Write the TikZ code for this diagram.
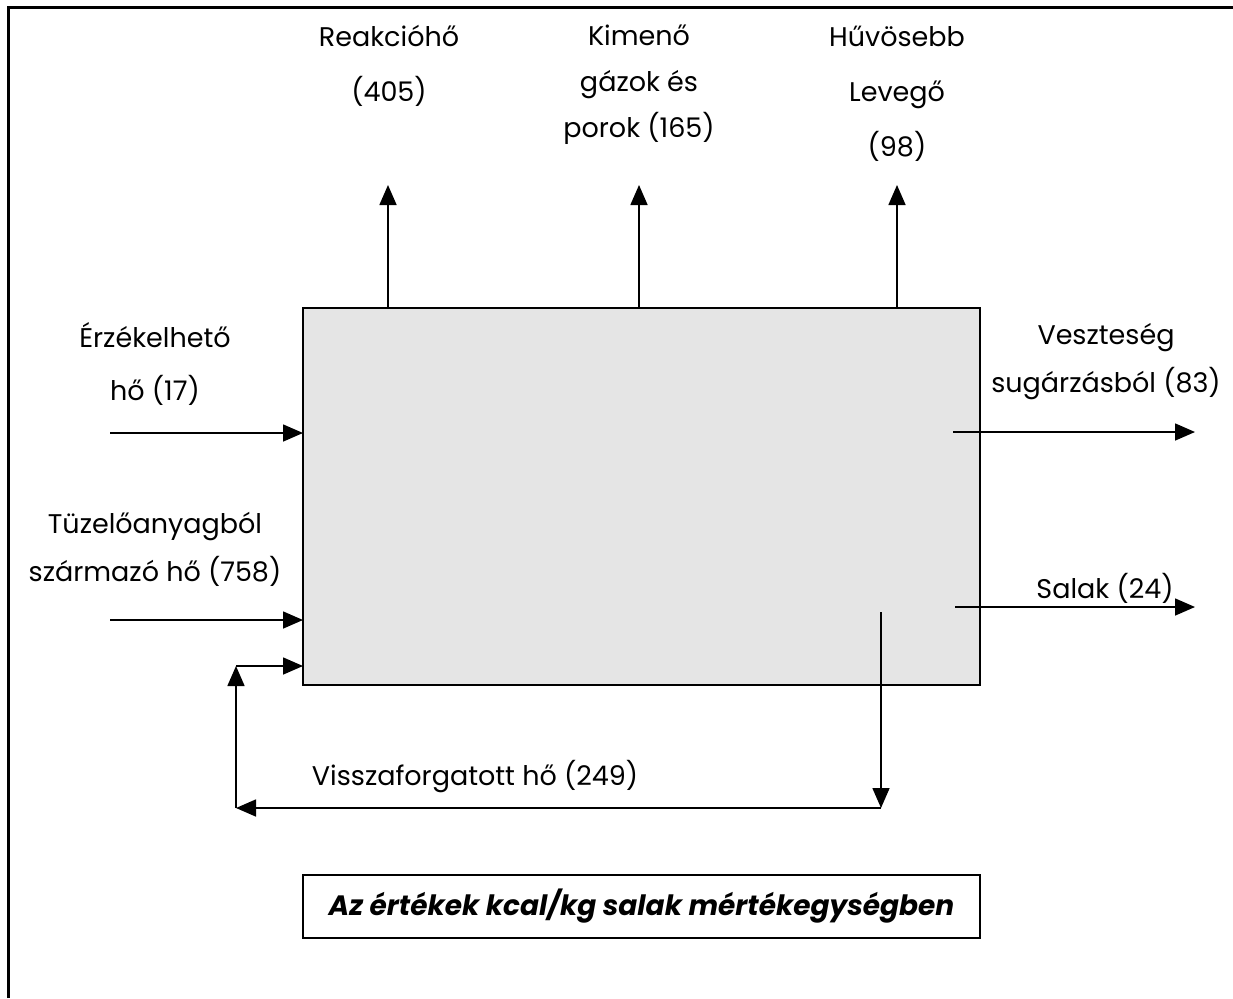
\documentclass[tikz,border=0pt]{standalone}
\usepackage{fontspec}
\setmainfont{Poppins}
\usetikzlibrary{arrows.meta}
\begin{document}
\begin{tikzpicture}[x=1pt,y=-1pt,
  flow/.style={line width=1.6pt,-{Triangle[length=20pt,width=17pt]}},
  lbl/.style={align=center,inner sep=0pt,font=\fontsize{27}{#1}\selectfont},
  lbl/.default=48,
]
\useasboundingbox (0,0) rectangle (1233,998);
% page frame (left and top rules)
\draw[line width=3pt] (8,998) -- (8,8) -- (1233,8);

% the furnace block
\node[draw,line width=2.4pt,fill=black!10,minimum width=677pt,minimum height=377pt,
      inner sep=0pt,outer sep=0pt,anchor=north west] (furnace) at (303,308) {};

% outgoing heat at the top
\coordinate (up1) at (388,185);
\coordinate (up2) at (639,185);
\coordinate (up3) at (897,185);
\draw[flow] (furnace.north -| up1) -- (up1);
\draw[flow] (furnace.north -| up2) -- (up2);
\draw[flow] (furnace.north -| up3) -- (up3);

\node[lbl=55] (reak) at (389,66) {Reakcióhő\\(405)};
\node[lbl=46] (kim) at (639,85) {Kimenő\\gázok és\\porok (165)};
\node[lbl=55] (huv) at (897,94) {Hűvösebb\\Levegő\\(98)};

% incoming heat on the left
\coordinate (in1) at (110,433);
\coordinate (in2) at (110,620);
\draw[flow] (in1) -- (in1 -| furnace.west);
\draw[flow] (in2) -- (in2 -| furnace.west);
\node[lbl=53] (erz) at (155,364) {Érzékelhető\\hő (17)};
\node[lbl=48] (tuz) at (155,549) {Tüzelőanyagból\\származó hő (758)};

% losses on the right
\coordinate (out1a) at (953,432);
\coordinate (out1b) at (1195,432);
\coordinate (out2a) at (955,607);
\coordinate (out2b) at (1195,607);
\draw[flow] (out1a) -- (out1b);
\draw[flow] (out2a) -- (out2b);
\node[lbl=48] (vesz) at (1106,362) {Veszteség\\sugárzásból (83)};
\node[lbl] (sal) at (1105,588) {Salak (24)};

% recirculated heat loop
\coordinate (rt) at (881,612);
\coordinate (rb) at (881,808);
\coordinate (lb) at (236,808);
\coordinate (lt) at (236,666);
\draw[flow] (rt) -- (rb);
\draw[flow] (rb) -- (lb);
\draw[flow] (lb) -- (lt);
\draw[flow] (lt) -- (lt -| furnace.west);
\node[lbl] (vissza) at (475,777) {Visszaforgatott hő (249)};

% unit note
\node[draw,line width=2pt,minimum width=677pt,minimum height=63pt,inner sep=0pt,outer sep=0pt,
      anchor=north west,font=\fontsize{28}{32}\selectfont\bfseries\itshape] (note) at (303,875)
      {Az értékek kcal/kg salak mértékegységben};
\end{tikzpicture}
\end{document}
